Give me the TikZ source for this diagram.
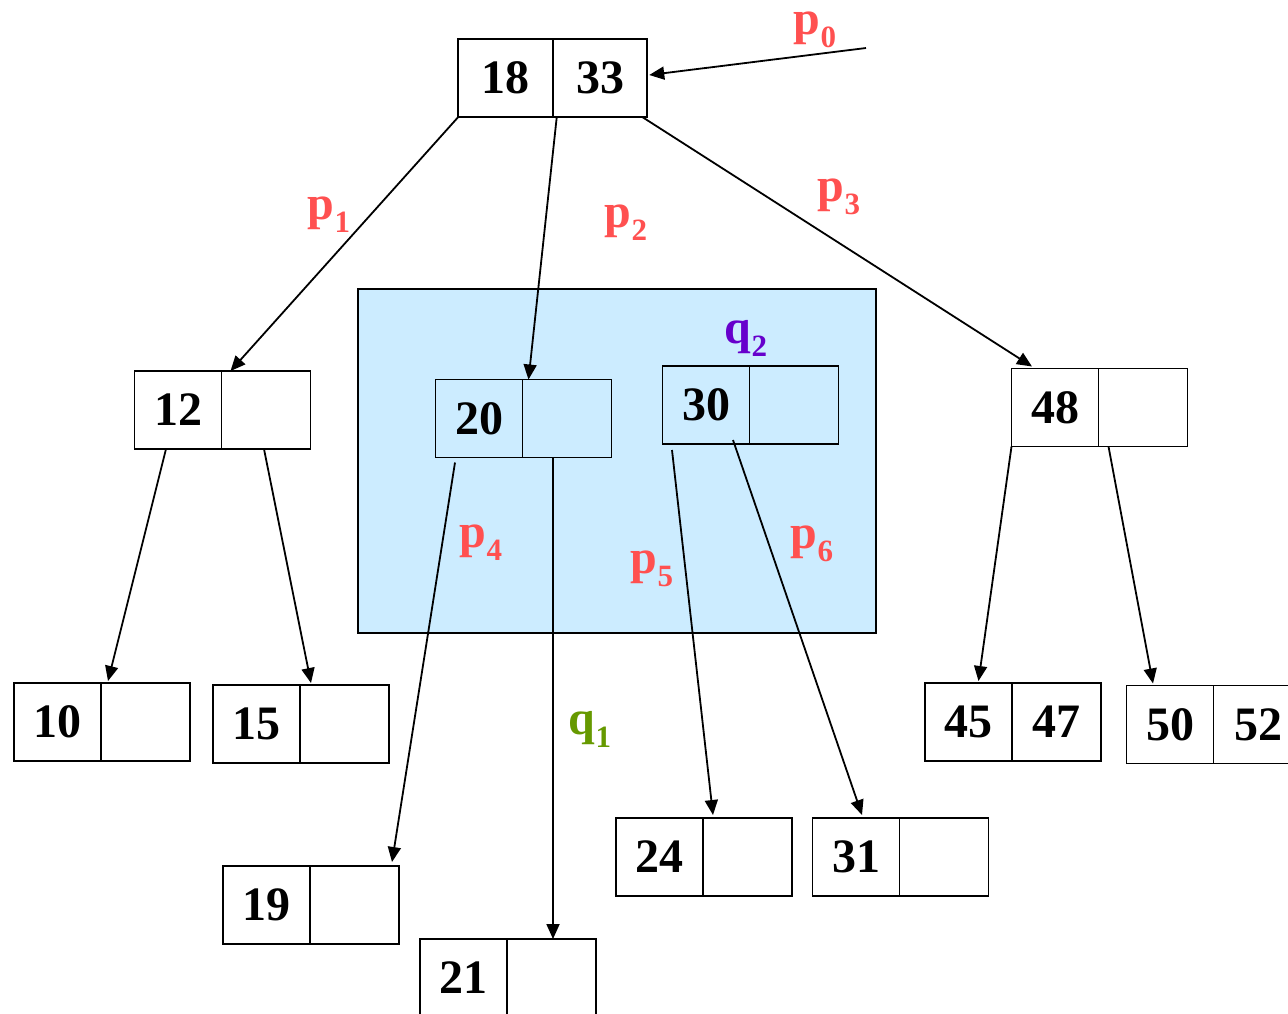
\documentclass[tikz,border=0pt]{standalone}
\usepackage{fontspec}
\setmainfont{Liberation Serif}
\usetikzlibrary{arrows.meta,positioning}
\definecolor{plabel}{HTML}{FF5050}
\definecolor{qpurple}{HTML}{6600CC}
\definecolor{qgreen}{HTML}{669900}
\definecolor{regionblue}{HTML}{CCECFF}
\newcommand{\ptr}[2]{#1\raisebox{-13pt}{\fontsize{31}{31}\selectfont #2}}
\begin{document}
\begin{tikzpicture}[x=1pt, y=-1pt,
  every node/.style={font=\bfseries\fontsize{48}{50}\selectfont},
  cell/.style={draw, rectangle, line width=1.8pt, minimum width=87pt,
    minimum height=78pt, inner sep=0pt, outer sep=0pt},
  rcell/.style={cell, minimum width=89pt},
  topcell/.style={cell, minimum width=94.5pt},
  arr/.style={line width=1.8pt, -{Triangle[length=15pt,width=13pt]}},
  plbl/.style={text=plabel, inner sep=0pt},
  qlbl/.style={inner sep=0pt}]

\useasboundingbox (0,0) rectangle (1288,1013);

% region holding the split node
\filldraw[fill=regionblue, line width=1.8pt] (358,289) rectangle (876,633);

% root
\node[topcell] (k18) at (505.5,78) {18};
\node[topcell, right=0pt of k18] (k18r) {33};

% other nodes: name / x / y / left key / right key
\foreach \nm/\x/\y/\lk/\rk in {k12/178/410/12/{}, k20/479/418.5/20/{},
    k30/706/405/30/{}, k48/1055/407.5/48/{}, k10/57.5/722/10/{},
    k15/256.5/724/15/{}, k45/968.5/722/45/47, k50/1170/724.5/50/52,
    k19/266.5/905/19/{}, k21/463.5/978/21/{}, k24/659.5/857/24/{},
    k31/856/857/31/{}}{
  \node[cell] (\nm) at (\x,\y) {\lk};
  \node[rcell, right=0pt of \nm] (\nm r) {\rk};
}

% pointers
\coordinate (p0end) at (866,48);
\draw[arr] (p0end) -- ([xshift=2pt,yshift=3pt]k18r.east);
\draw[arr] (k18.south west) -- ([xshift=9pt]k12.north east);
\draw[arr] ([xshift=4pt]k18.south east) -- ([xshift=6pt]k20.north east);
\draw[arr] ([xshift=-5pt]k18r.south east) -- ([xshift=-23pt,yshift=2pt]k48.north);
\draw[arr] ([xshift=-12pt]k12.south) -- ([xshift=7pt,yshift=2pt]k10.north east);
\draw[arr] ([xshift=-2pt]k12r.south) -- ([xshift=11pt,yshift=2pt]k15.north east);
\draw[arr] ([xshift=-24pt,yshift=-5pt]k20.south) -- ([xshift=-7pt,yshift=4pt]k19r.north east);
\draw[arr] ([xshift=-14pt]k20r.south) -- ([xshift=-14pt]k20r.south |- k21r.north);
\draw[arr] ([xshift=-34pt,yshift=-6pt]k30.south) -- ([xshift=10pt,yshift=3pt]k24.north east);
\draw[arr] ([xshift=27pt,yshift=4pt]k30.south) -- ([xshift=6pt,yshift=3pt]k31.north);
\draw[arr] (k48.south west) -- ([xshift=10pt,yshift=2pt]k45.north);
\draw[arr] ([xshift=10pt]k48r.south west) -- ([xshift=-17pt,yshift=2pt]k50.north);

% labels
\node[plbl] (lp0) at (815,30) {\ptr{p}{0}};
\node[plbl] (lp1) at (329,215) {\ptr{p}{1}};
\node[plbl] (lp2) at (626,223) {\ptr{p}{2}};
\node[plbl] (lp3) at (839,197) {\ptr{p}{3}};
\node[qlbl, text=qpurple] (lq2) at (746,338) {\ptr{q}{2}};
\node[plbl] (lp4) at (481,543) {\ptr{p}{4}};
\node[plbl] (lp5) at (652,569) {\ptr{p}{5}};
\node[plbl] (lp6) at (812,544) {\ptr{p}{6}};
\node[qlbl, text=qgreen] (lq1) at (590,729) {\ptr{q}{1}};

\end{tikzpicture}
\end{document}
